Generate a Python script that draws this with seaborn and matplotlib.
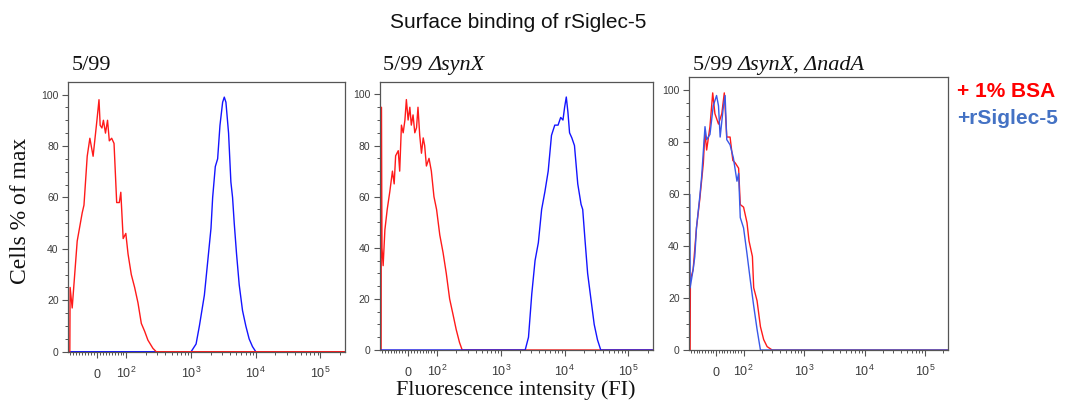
import matplotlib
matplotlib.use('Agg')
import matplotlib.pyplot as plt
import numpy as np
import pandas as pd
import seaborn as sns

sns.set_theme(style='ticks')
plt.rcParams['font.family'] = ['Liberation Sans', 'DejaVu Sans']
plt.rcParams['mathtext.fontset'] = 'custom'
plt.rcParams['mathtext.rm'] = 'Liberation Sans'
plt.rcParams['mathtext.it'] = 'Liberation Sans:italic'

RED = '#ff1a1a'
BLUE = '#1414ff'
BLUE_SOFT = '#3a58e8'
AXIS_GREY = '#555555'
TICK_TEXT = '#3c3c3c'
SERIF = 'Liberation Serif'

# --- data (fluorescence intensity vs cells % of max) ---
panel_titles = [
    [('5/99', 'normal')],
    [('5/99 ', 'normal'), ('\u0394synX', 'italic')],
    [('5/99 ', 'normal'), ('\u0394synX, \u0394nadA', 'italic')],
]

p1_red_x = [-92, -91, -84, -67, -50, -44, -33, -24, -13, 0, 7, 11, 17, 22, 29, 36, 42, 50, 58, 67,
            76, 81, 89, 98, 106, 119, 134, 151, 170, 191, 215, 257, 289, 240000]
p1_red_y = [0, 25, 17, 43, 54, 57, 76, 83, 76, 90, 98, 88, 87, 90, 85, 90, 82, 83, 81, 58,
            58, 62, 44, 46, 38, 30, 25, 19, 11, 8, 4.5, 1.3, 0, 0]
p1_blue_x = [-95, 1000, 1194, 1343, 1604, 1805, 2030, 2154, 2367, 2572, 2794, 3072, 3258, 3455,
             3795, 4121, 4375, 4642, 5042, 5544, 6236, 7017, 7890, 8885, 10000, 240000]
p1_blue_y = [0, 0, 3, 10, 22, 35, 48, 60, 72, 75, 88, 97, 99, 97,
             85, 66, 60, 50, 38, 26, 16, 10, 5, 2, 0, 0]

p2_red_x = [-93, -92, -90, -86, -80, -72, -63, -54, -48, -43, -34, -29, -23, -17, -11, -6, 0, 6, 11, 17,
            23, 29, 34, 40, 46, 52, 57, 63, 72, 80, 89, 98, 110, 124, 139, 157, 177, 199, 224, 247, 240000]
p2_red_y = [0, 95, 40, 33, 47, 55, 62, 70, 65, 76, 78, 70, 88, 85, 90, 98, 90, 95, 88, 92,
            85, 87, 95, 84, 77, 83, 80, 72, 75, 70, 60, 55, 45, 38, 30, 20, 14, 8, 3, 0, 0]
p2_blue_x = [-97, 2406, 2711, 3053, 3436, 3870, 4357, 4907, 5524, 6221, 7003, 7885, 8670, 9418, 9998,
             10620, 11270, 11950, 12980, 14270, 16070, 18110, 19220, 20890, 22960, 25840, 29110,
             32760, 36880, 240000]
p2_blue_y = [0, 0, 5, 22, 35, 42, 55, 62, 70, 84, 88, 88, 91, 90, 95,
             99, 93, 85, 83, 80, 65, 57, 55, 43, 30, 20, 10,
             4, 0, 0]

p3_red_x = [-94, -93, -83, -71, -59, -46, -40, -34, -22, -12, -4, 9, 21, 30, 39, 51, 61, 70, 82, 88,
            100, 114, 123, 140, 147, 167, 190, 215, 245, 297, 240000]
p3_red_y = [0, 27, 31, 47, 58, 72, 84, 77, 86, 99, 91, 87, 91, 99, 82, 82, 73, 72, 70, 56,
            55, 49, 42, 36, 24, 19, 9, 4, 1.3, 0, 0]
p3_blue_x = [-97, -96, -94, -83, -77, -71, -59, -52, -40, -34, -22, -10, 2, 9, 15, 27, 33, 39, 51, 63,
             76, 82, 88, 100, 114, 129, 147, 167, 190, 240000]
p3_blue_y = [0, 60, 24, 31, 36, 47, 59, 67, 86, 81, 83, 94, 98, 94, 82, 94, 98, 81, 79, 74,
             65, 68, 51, 47, 37, 27, 17, 8, 0, 0]

major_ticks = [0, 100, 1000, 10000, 100000]
major_labels = ['0', '$10^2$', '$10^3$', '$10^4$', '$10^5$']
minor_ticks = ([-v for v in range(10, 100, 10)] + list(range(10, 100, 10))
               + list(range(200, 1000, 100)) + list(range(2000, 10000, 1000))
               + list(range(20000, 100000, 10000)) + [200000])
y_ticks = [0, 20, 40, 60, 80, 100]
legend_labels = ['+ 1% BSA', '+rSiglec-5']

# axes boxes in figure fractions (left, bottom, width, height)
boxes = [
    (0.0637, 0.1316, 0.2579, 0.6667),
    (0.3541, 0.1358, 0.2541, 0.6625),
    (0.6424, 0.1358, 0.2411, 0.6733),
]

panels = [
    [('blue', p1_blue_x, p1_blue_y, BLUE), ('red', p1_red_x, p1_red_y, RED)],
    [('red', p2_red_x, p2_red_y, RED), ('blue', p2_blue_x, p2_blue_y, BLUE)],
    [('red', p3_red_x, p3_red_y, RED), ('blue', p3_blue_x, p3_blue_y, BLUE_SOFT)],
]


def style_axis(ax):
    ax.set_xscale('symlog', linthresh=100, linscale=0.41, base=10)
    ax.set_xlim(-97, 240000)
    ax.set_ylim(0, 105)
    ax.set_xticks(major_ticks, labels=major_labels)
    ax.set_xticks(minor_ticks, minor=True)
    ax.set_yticks(y_ticks)
    ax.set_yticks([v for v in range(5, 105, 5) if v % 20], minor=True)
    ax.tick_params(which='major', length=4, width=0.8, color=AXIS_GREY,
                   labelcolor=TICK_TEXT, direction='out')
    ax.tick_params(which='minor', length=2.5, width=0.7, color=AXIS_GREY, direction='out')
    ax.tick_params(axis='x', which='major', pad=15, labelsize=9)
    ax.tick_params(axis='y', which='major', pad=3, labelsize=7.5)
    for lab in ax.xaxis.get_majorticklabels():
        lab.set_verticalalignment('baseline')
    for side in ax.spines.values():
        side.set_visible(True)
        side.set_color(AXIS_GREY)
        side.set_linewidth(0.9)
    ax.set_xlabel('')
    ax.set_ylabel('')
    ax.grid(False)


def rich_text(fig, x, y, parts, **kw):
    """Lay text pieces one after another along a baseline."""
    renderer = fig.canvas.get_renderer()
    inv = fig.transFigure.inverted()
    for text, style in parts:
        t = fig.text(x, y, text, style=style, ha='left', va='baseline', **kw)
        bb = t.get_window_extent(renderer)
        x = inv.transform((bb.x1, bb.y0))[0]


fig = plt.figure(figsize=(10.73, 4.05), dpi=100)
fig.patch.set_facecolor('white')

for box, series, title in zip(boxes, panels, panel_titles):
    ax = fig.add_axes(box)
    for name, xs, ys, color in series:
        df = pd.DataFrame({'FI': xs, 'pct': ys})
        sns.lineplot(data=df, x='FI', y='pct', sort=False, estimator=None,
                     color=color, lw=1.0, ax=ax)
    style_axis(ax)
    rich_text(fig, box[0] + 0.003, 0.827, title, family=SERIF, fontsize=16, color='#111111')

fig.text(0.483, 0.945, 'Surface binding of rSiglec-5', fontsize=15, ha='center', va='center',
         color='#111111')
fig.text(0.019, 0.479, 'Cells % of max', family=SERIF, fontsize=17,
         rotation=90, ha='center', va='center', color='#111111')
fig.text(0.481, 0.024, 'Fluorescence intensity (FI)', family=SERIF, fontsize=16,
         ha='center', va='baseline', color='#111111')
fig.text(0.892, 0.775, legend_labels[0], fontsize=15, fontweight='bold', color='#ff0000',
         ha='left', va='center')
fig.text(0.892, 0.707, legend_labels[1], fontsize=15, fontweight='bold', color='#4472c4',
         ha='left', va='center')

fig.savefig('out.png', dpi=100)
plt.close()
